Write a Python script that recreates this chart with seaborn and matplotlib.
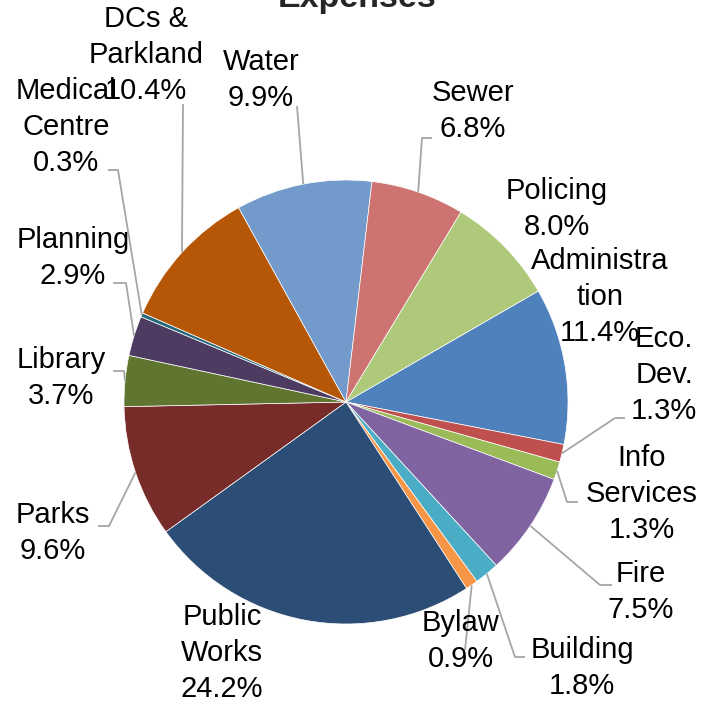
import matplotlib
matplotlib.use("Agg")
import matplotlib.pyplot as plt
import numpy as np
import seaborn as sns

sns.set_theme(style="white")
plt.rcParams["font.family"] = ["Liberation Sans", "DejaVu Sans"]

# --- data (percent of total expenses), in slice order, clockwise ---
categories = ["Administration", "Eco. Dev.", "Info Services", "Fire", "Building",
              "Bylaw", "Public Works", "Parks", "Library", "Planning",
              "Medical Centre", "DCs & Parkland", "Water", "Sewer", "Policing"]
shares = [11.4, 1.3, 1.3, 7.5, 1.8, 0.9, 24.2, 9.6, 3.7, 2.9, 0.3, 10.4, 9.9, 6.8, 8.0]
label_names = ["Administra\ntion", "Eco.\nDev.", "Info\nServices", "Fire", "Building",
               "Bylaw", "Public\nWorks", "Parks", "Library", "Planning",
               "Medical\nCentre", "DCs &\nParkland", "Water", "Sewer", "Policing"]

colors = ["#4F81BD", "#C0504D", "#9BBB59", "#8064A2", "#4BACC6", "#F79646",
          "#2C4D75", "#772C2A", "#5F7530", "#4D3B62", "#276A7C", "#B65708",
          "#729ACA", "#CD7371", "#AFC97A"]

# layout in pixels (y measured from the top of the image)
W, H = 702, 701
cx, cy, rad = 346, 402, 222

label_pos = {
    "Administration": (600, 297), "Eco. Dev.": (664, 375), "Info Services": (642, 494),
    "Fire": (641, 592), "Building": (582, 668), "Bylaw": (461, 641),
    "Public Works": (222, 653), "Parks": (53, 533), "Library": (61, 378),
    "Planning": (73, 258), "Medical Centre": (66, 127), "DCs & Parkland": (146, 55),
    "Water": (261, 80), "Sewer": (473, 111), "Policing": (557, 209),
}
# leader line points from label side towards the slice
leaders = {
    "Medical Centre": [(108, 170), (118, 170)],
    "DCs & Parkland": [(183, 104)],
    "Water": [(297, 106)],
    "Sewer": [(432, 138), (422, 138)],
    "Planning": [(113, 283), (126, 283)],
    "Library": [(113, 371), (124, 371)],
    "Parks": [(98, 526), (109, 526)],
    "Bylaw": [(465, 650)],
    "Building": [(525, 657), (515, 657)],
    "Fire": [(612, 585), (600, 585)],
    "Info Services": [(578, 502), (567, 502)],
    "Eco. Dev.": [(625, 418), (615, 418)],
}

fig = plt.figure(figsize=(W / 100, H / 100), dpi=100)
ax = fig.add_axes([0, 0, 1, 1])

wedges, _ = ax.pie(shares, colors=colors, startangle=30, counterclock=False,
                   center=(cx, H - cy), radius=rad,
                   wedgeprops=dict(edgecolor="white", linewidth=0.5))

for w, name, lab, val in zip(wedges, categories, label_names, shares):
    if name in leaders:
        mid = np.deg2rad((w.theta1 + w.theta2) / 2)
        end = (cx + rad * np.cos(mid), H - cy + rad * np.sin(mid))
        pts = [(x, H - y) for x, y in leaders[name]] + [end]
        ax.plot([p[0] for p in pts], [p[1] for p in pts], color="#A6A6A6",
                lw=1.3, zorder=3, solid_capstyle="butt")
    lx, ly = label_pos[name]
    ax.text(lx, H - ly, f"{lab}\n{val:.1f}%", ha="center", va="center",
            multialignment="center", fontsize=21, linespacing=1.38,
            color="black", zorder=4)

ax.set_xlim(0, W)
ax.set_ylim(0, H)
ax.set_aspect("equal")
ax.axis("off")

# title sits mostly above the top edge, as in the original image
fig.text(357 / W, 1 - 7 / H, "Expenses", ha="center", va="baseline",
         fontsize=24.5, fontweight="bold")

fig.savefig("out.png", dpi=100)
